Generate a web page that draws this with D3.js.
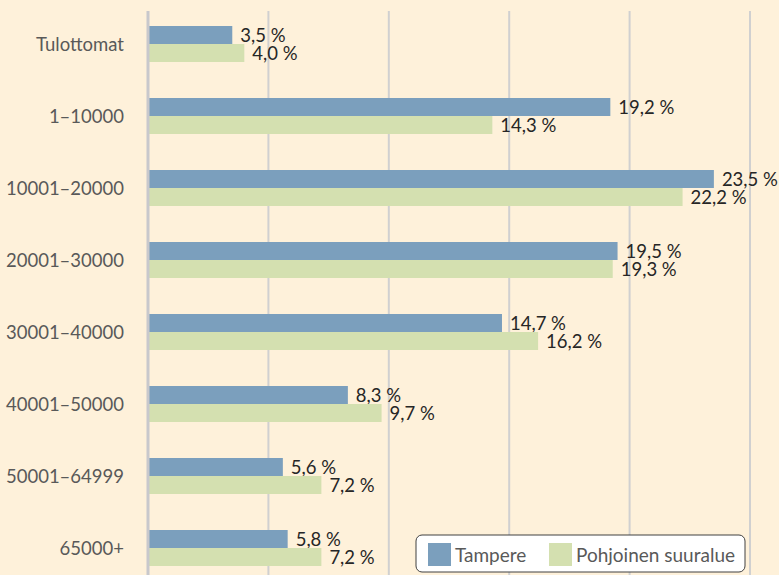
<!DOCTYPE html>
<html>
<head>
<meta charset="utf-8">
<script src="https://cdn.jsdelivr.net/npm/d3@7"></script>
<style>
  body { margin: 0; background: #fef1da; }
  text { font-family: Lato, "Open Sans", sans-serif; }
</style>
</head>
<body>
<script>
var categories = ["Tulottomat", "1\u201310000", "10001\u201320000", "20001\u201330000",
    "30001\u201340000", "40001\u201350000", "50001\u201364999", "65000+"];
var tampere = [3.5, 19.2, 23.5, 19.5, 14.7, 8.3, 5.6, 5.8];
var pohjoinen = [4.0, 14.3, 22.2, 19.3, 16.2, 9.7, 7.2, 7.2];
var seriesNames = ["Tampere", "Pohjoinen suuralue"];
var seriesColors = ["#7b9fbd", "#d4e0b0"];
var xTicks = [0, 5, 10, 15, 20, 25];

var width = 779, height = 575;
var svg = d3.select("body").append("svg")
    .attr("width", width)
    .attr("height", height);

svg.append("rect").attr("width", width).attr("height", height).attr("fill", "#fef1da");

var x = d3.scaleLinear().domain([0, 25]).range([148, 750]);
var y = d3.scaleBand().domain(categories).range([8, 584]).paddingInner(0.5).paddingOuter(0.25);
var ySub = d3.scaleBand().domain([0, 1]).range([0, y.bandwidth()]);

// gridlines
svg.append("g")
    .selectAll("line")
    .data(xTicks.slice(1))
    .join("line")
    .attr("x1", d => x(d)).attr("x2", d => x(d))
    .attr("y1", 11).attr("y2", height)
    .attr("stroke", "#d0d0d0")
    .attr("stroke-width", 2);

var fmt = v => d3.format(".1f")(v).replace(".", ",") + " %";

var series = [tampere, pohjoinen];
series.forEach(function(vals, s) {
    var g = svg.append("g");
    g.selectAll("rect")
        .data(vals)
        .join("rect")
        .attr("x", x(0))
        .attr("y", (d, i) => y(categories[i]) + ySub(s))
        .attr("width", d => x(d) - x(0))
        .attr("height", ySub.bandwidth())
        .attr("fill", seriesColors[s]);
    g.selectAll("text")
        .data(vals)
        .join("text")
        .attr("x", d => x(d) + 8)
        .attr("y", (d, i) => y(categories[i]) + ySub(s) + ySub.bandwidth() / 2)
        .attr("dy", "0.36em")
        .attr("font-size", 18.5)
        .attr("fill", "#262626")
        .text(fmt);
});

// axis line
svg.append("line")
    .attr("x1", x(0)).attr("x2", x(0))
    .attr("y1", 11).attr("y2", height)
    .attr("stroke", "#c8c8cc")
    .attr("stroke-width", 3);

// category labels
svg.append("g")
    .selectAll("text")
    .data(categories)
    .join("text")
    .attr("x", 124)
    .attr("y", d => y(d) + y.bandwidth() / 2)
    .attr("dy", "0.36em")
    .attr("text-anchor", "end")
    .attr("font-size", 18.5)
    .attr("fill", "#595959")
    .text(d => d);

// legend
var legend = svg.append("g").attr("transform", "translate(416,535)");
legend.append("rect")
    .attr("width", 329).attr("height", 37)
    .attr("rx", 6)
    .attr("fill", "#fff")
    .attr("stroke", "#404040")
    .attr("stroke-width", 1);
var items = legend.selectAll("g.item")
    .data(seriesNames)
    .join("g")
    .attr("transform", (d, i) => "translate(" + [12, 133][i] + ",8)");
items.append("rect")
    .attr("width", 23).attr("height", 23)
    .attr("fill", (d, i) => seriesColors[i]);
items.append("text")
    .attr("x", 27)
    .attr("y", 12)
    .attr("dy", "0.36em")
    .attr("font-size", 19)
    .attr("fill", "#595959")
    .text(d => d);
</script>
</body>
</html>
